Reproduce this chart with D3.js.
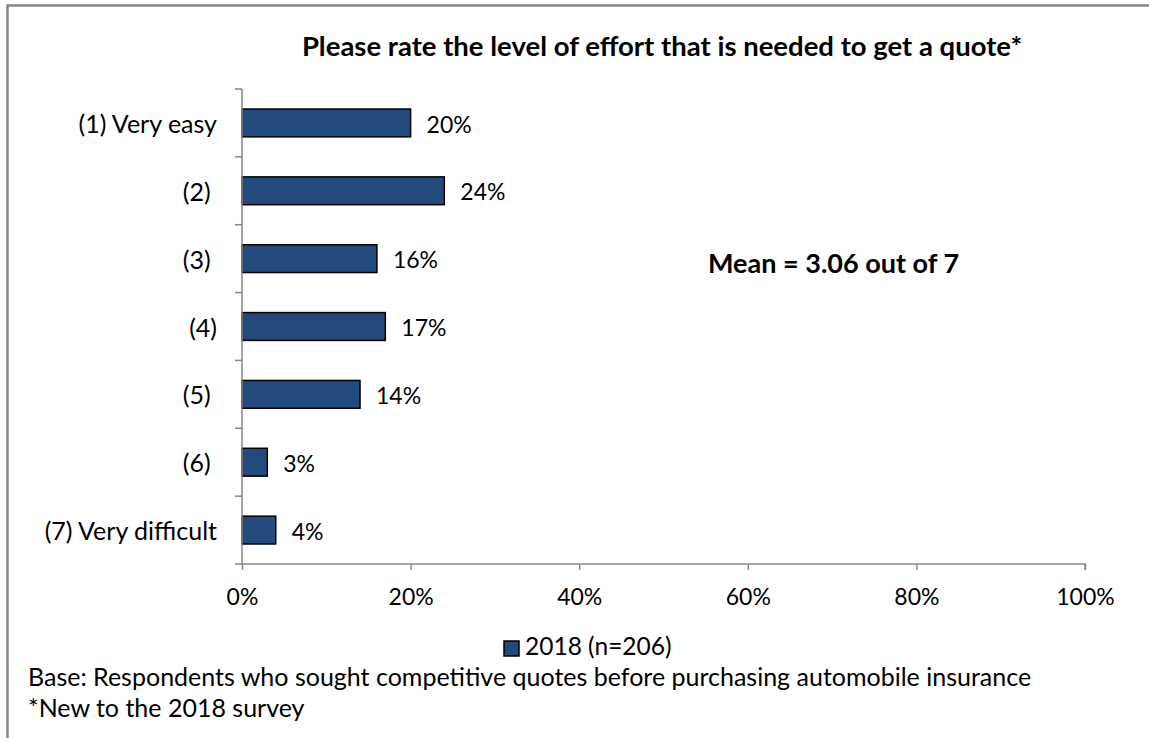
<!DOCTYPE html>
<html>
<head>
<meta charset="utf-8">
<script src="https://cdn.jsdelivr.net/npm/d3@7"></script>
<style>
  html, body { margin: 0; padding: 0; background: #ffffff; }
  svg { display: block; }
  text { font-family: Lato, "Open Sans", sans-serif; fill: #000; }
</style>
</head>
<body>
<svg id="chart" width="1149" height="738"></svg>
<script>
// Rating categories (trailing spaces kept as in the source labels)
const categories = ["(1) Very easy", "(2) ", "(3) ", "(4)", "(5) ", "(6) ", "(7) Very difficult"];
// Share of respondents per rating, in percent
const shares = [20, 24, 16, 17, 14, 3, 4];
const xTicks = [0, 20, 40, 60, 80, 100];
const seriesName = "2018 (n=206)";
const chartTitle = "Please rate the level of effort that is needed to get a quote*";
const meanNote = "Mean = 3.06 out of 7";
const footnotes = [
  "Base: Respondents who sought competitive quotes before purchasing automobile insurance",
  "*New to the 2018 survey"
];

const svg = d3.select("#chart");
const axisColor = "#868686";
const barColor = "#234a7c";

// outer frame of the figure
svg.append("rect")
  .attr("x", 7.5).attr("y", 5.5)
  .attr("width", 1160).attr("height", 760)
  .attr("fill", "none")
  .attr("stroke", axisColor)
  .attr("stroke-width", 2.5);

const plot = { left: 242, right: 1085, top: 89, bottom: 564 };

const x = d3.scaleLinear().domain([0, 100]).range([plot.left, plot.right]);
const y = d3.scaleBand().domain(categories)
  .range([plot.top, plot.bottom])
  .paddingInner(0.59).paddingOuter(0.295);

// title
svg.append("text")
  .attr("x", 662).attr("y", 56)
  .attr("text-anchor", "middle")
  .attr("font-size", 27.5).attr("font-weight", "bold")
  .text(chartTitle);

// bars
svg.append("g").selectAll("rect")
  .data(shares)
  .join("rect")
  .attr("x", x(0))
  .attr("y", (d, i) => y(categories[i]))
  .attr("width", d => x(d) - x(0))
  .attr("height", y.bandwidth())
  .attr("fill", barColor)
  .attr("stroke", "#000")
  .attr("stroke-width", 1.5);

// value labels
svg.append("g").selectAll("text")
  .data(shares)
  .join("text")
  .attr("x", d => x(d) + 16)
  .attr("y", (d, i) => y(categories[i]) + y.bandwidth() / 2)
  .attr("dy", "0.42em")
  .attr("font-size", 23)
  .text(d => d + "%");

// x axis
const xAxis = svg.append("g")
  .attr("transform", `translate(0,${plot.bottom})`)
  .call(d3.axisBottom(x).tickValues(xTicks).tickFormat(d => d + "%").tickSize(6).tickPadding(0));
xAxis.select(".domain").attr("stroke", axisColor).attr("stroke-width", 1.5)
  .attr("d", `M${plot.left},0H${plot.right}V6`);
xAxis.selectAll(".tick line").attr("stroke", axisColor).attr("stroke-width", 1.5);
xAxis.selectAll(".tick text")
  .attr("y", 41).attr("dy", null)
  .attr("font-size", 23).attr("font-family", "Lato, sans-serif").attr("fill", "#000");

// y axis line and tick marks at category boundaries
const step = y.step();
svg.append("line")
  .attr("x1", plot.left).attr("x2", plot.left)
  .attr("y1", plot.top).attr("y2", plot.bottom)
  .attr("stroke", axisColor).attr("stroke-width", 1.5);
svg.append("g").selectAll("line")
  .data(d3.range(categories.length + 1))
  .join("line")
  .attr("x1", plot.left - 7).attr("x2", plot.left)
  .attr("y1", i => plot.top + i * step).attr("y2", i => plot.top + i * step)
  .attr("stroke", axisColor).attr("stroke-width", 1.5);

// category labels
svg.append("g").selectAll("text")
  .data(categories)
  .join("text")
  .attr("x", plot.left - 25)
  .attr("y", d => y(d) + y.bandwidth() / 2)
  .attr("dy", "0.4em")
  .attr("text-anchor", "end")
  .attr("xml:space", "preserve")
  .style("white-space", "pre")
  .attr("font-size", 25)
  .text(d => d);

// mean annotation
svg.append("text")
  .attr("x", 708).attr("y", 273)
  .attr("font-size", 27).attr("font-weight", "bold")
  .text(meanNote);

// legend
const legend = svg.append("g").attr("transform", "translate(504,641)");
legend.append("rect")
  .attr("width", 15).attr("height", 15)
  .attr("fill", barColor).attr("stroke", "#000").attr("stroke-width", 1.5);
legend.append("text")
  .attr("x", 21).attr("y", 14)
  .attr("font-size", 24.5)
  .text(seriesName);

// footnotes
svg.append("g").selectAll("text")
  .data(footnotes)
  .join("text")
  .attr("x", 28)
  .attr("y", (d, i) => 686 + i * 31)
  .attr("font-size", 25)
  .text(d => d);
</script>
</body>
</html>
